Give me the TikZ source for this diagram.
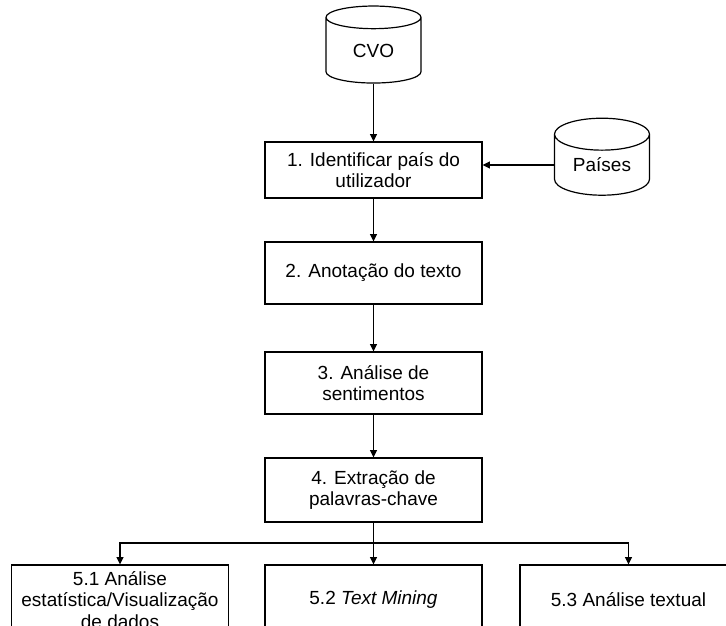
\documentclass[tikz,border=0pt]{standalone}
\usepackage{fontspec}
\setmainfont{Liberation Sans}
\usetikzlibrary{arrows.meta,shapes.geometric}
\tikzset{
	passo/.style={draw, line width=0.6pt, rectangle, align=center, minimum width=108.5pt, minimum height=31pt, inner sep=2pt, font=\fontsize{9.5}{10.9}\selectfont},
	base/.style={draw, line width=0.6pt, cylinder, shape border rotate=90, aspect=0.55, minimum width=47.5pt, minimum height=38.5pt, inner sep=0pt, font=\fontsize{9.5}{10.9}\selectfont},
	seta/.style={line width=0.6pt, -{Triangle[length=3.6pt,width=3.4pt]}}
}

\begin{document}
\begin{tikzpicture}[x=0.5pt, y=-0.5pt]
		%%%%% START %%%%%
		\useasboundingbox (0, 0) rectangle (726, 625);
		\clip (0, 0) rectangle (726, 625);
		
		\node[base] (cvo) at (373.5, 50.5) {CVO};
		\node[base] (paises) at (602, 165) {Países};
		
		\node[passo, minimum height=28pt] (ident) at (373.5, 170) {1. Identificar país do\\utilizador};
		\node[passo] (anot) at (373.5, 273) {2. Anotação do texto};
		\node[passo] (sent) at (373.5, 383) {3. Análise de\\sentimentos};
		\node[passo, minimum height=32pt] (extr) at (373.5, 490) {4. Extração de\\palavras-chave};
		
		\node[passo, minimum height=35pt] (estat) at (120, 600) {5.1 Análise\\estatística/Visualização\\de dados};
		\node[passo, minimum height=35pt] (mining) at (373.5, 600) {5.2 \textit{Text Mining}};
		\node[passo, minimum height=35pt] (textual) at (628.5, 600) {5.3 Análise textual};
		
		\draw[seta] (cvo.south) -- (ident.north);
		\draw[seta] (paises.west) -- (paises.west -| ident.east);
		\draw[seta] (ident) -- (anot);
		\draw[seta] (anot) -- (sent);
		\draw[seta] (sent) -- (extr);
		
		\coordinate (ramo) at (373.5, 543);
		\draw[line width=0.6pt] (extr) -- (ramo);
		\draw[seta] (ramo) -| (estat.north);
		\draw[seta] (ramo) -- (mining);
		\draw[seta] (ramo) -| (textual.north);
		%%%%% END %%%%%
	\end{tikzpicture}
\end{document}
